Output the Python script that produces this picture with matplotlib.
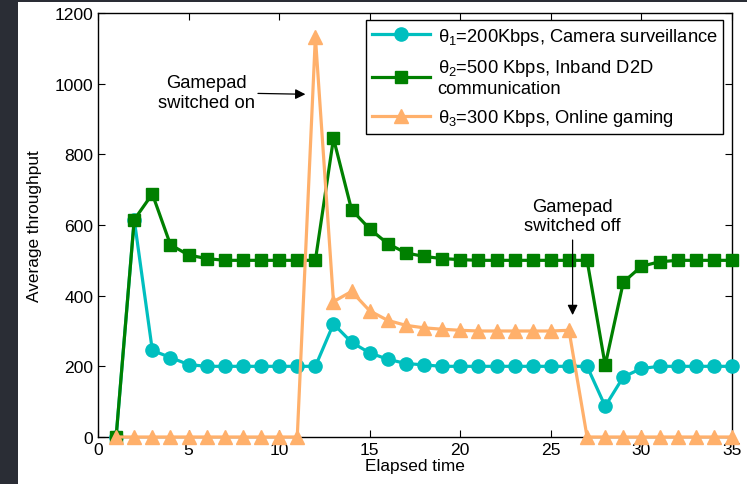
import numpy as np
import matplotlib.pyplot as plt
from matplotlib.patches import Rectangle

plt.rcParams['font.family'] = ['Liberation Sans', 'DejaVu Sans']
plt.rcParams['mathtext.fontset'] = 'custom'
plt.rcParams['mathtext.rm'] = 'Liberation Sans'
plt.rcParams['mathtext.it'] = 'Liberation Sans'

# data
t = np.arange(1, 36)
camera = [0, 615, 245, 225, 205, 200, 200, 200, 200, 200, 200, 200,
          320, 268, 238, 220, 208, 204, 200, 200, 200, 200, 200, 200,
          200, 200, 200, 87, 170, 194, 200, 200, 200, 200, 200]
d2d = [0, 615, 688, 544, 515, 505, 500, 500, 500, 500, 500, 500,
       845, 643, 589, 547, 521, 511, 505, 502, 500, 500, 500, 500,
       500, 500, 500, 203, 438, 483, 496, 500, 500, 500, 500]
gaming = [0, 0, 0, 0, 0, 0, 0, 0, 0, 0, 0, 1133,
          383, 412, 357, 330, 316, 309, 305, 302, 300, 300, 300, 300,
          300, 302, 0, 0, 0, 0, 0, 0, 0, 0, 0]

labels = [r'$\theta_1$=200Kbps, Camera surveillance',
          r'$\theta_2$=500 Kbps, Inband D2D' + '\ncommunication',
          r'$\theta_3$=300 Kbps, Online gaming']

fig = plt.figure(figsize=(7.47, 4.85), dpi=100, facecolor='#2a2d35')
# white page area (dark strip on left and top like the screenshot)
fig.patches.append(Rectangle((18 / 747, 0), 1, 1 - 3 / 485, transform=fig.transFigure,
                             facecolor='white', edgecolor='none', zorder=-10))

ax = fig.add_axes([98 / 747, 1 - 438 / 485, 634 / 747, 424 / 485])
ax.set_zorder(1)
ax.plot(t, camera, color='#00bfbf', lw=2.3, marker='o', ms=9.5, label=labels[0],
        zorder=3, clip_on=False)
ax.plot(t, d2d, color='#008000', lw=2.3, marker='s', ms=8.5, label=labels[1],
        zorder=3, clip_on=False)
ax.plot(t, gaming, color='#ffb06b', lw=2.3, marker='^', ms=10, label=labels[2],
        zorder=4, clip_on=False)

ax.set_xlim(0, 35)
ax.set_ylim(0, 1200)
ax.set_xticks(range(0, 36, 5))
ax.set_yticks(range(0, 1201, 200))
ax.tick_params(direction='in', labelsize=12.6, length=5, top=True, right=True)
ax.set_xlabel('Elapsed time', fontsize=12.4, labelpad=1)
ax.set_ylabel('Average throughput', fontsize=12.4, labelpad=9)
for s in ax.spines.values():
    s.set_linewidth(1.0)

ax.annotate('Gamepad\nswitched on', xy=(11.45, 970), xytext=(6.0, 975),
            ha='center', va='center', fontsize=13.2,
            arrowprops=dict(arrowstyle='-|>', color='black', lw=0.9,
                            mutation_scale=15, shrinkA=0, shrinkB=0))
ax.annotate('Gamepad\nswitched off', xy=(26.2, 345), xytext=(26.2, 625),
            ha='center', va='center', fontsize=13.2,
            arrowprops=dict(arrowstyle='-|>', color='black', lw=0.9,
                            mutation_scale=15, shrinkA=2, shrinkB=0))

leg = ax.legend(loc='upper right', bbox_to_anchor=(0.986, 0.983), fontsize=13.2,
                frameon=True, fancybox=False, edgecolor='black', framealpha=1,
                handlelength=3.2, borderpad=0.3, labelspacing=0.55, handletextpad=0.4,
                borderaxespad=0)
leg.get_frame().set_linewidth(1.0)

fig.savefig('out.png', dpi=100, facecolor=fig.get_facecolor())
